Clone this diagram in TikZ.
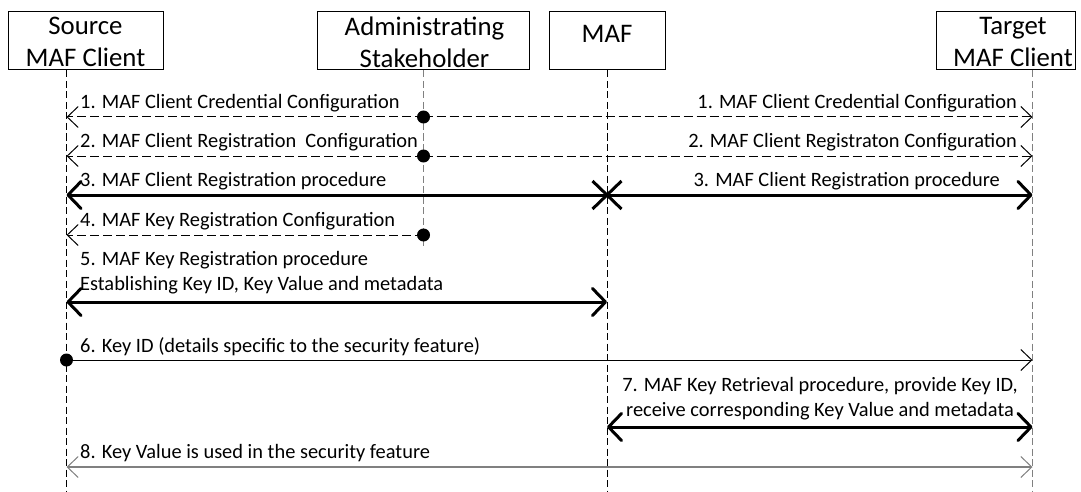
\documentclass[tikz,border=0pt]{standalone}
\usepackage{fontspec}
\setmainfont{Carlito}
\usetikzlibrary{arrows.meta,shapes.misc}
\definecolor{lgray}{RGB}{128,128,128}
\begin{document}
\begin{tikzpicture}[x=1pt,y=-1pt,
  actor/.style={draw, line width=1pt, inner sep=0pt, minimum height=58pt},
  hdr/.style={inner sep=0pt, align=center, font=\fontsize{26.8}{31.7}\selectfont},
  lbl/.style={inner sep=0pt, font=\fontsize{20.4}{25}\selectfont},
  life/.style={line width=1pt, dash pattern=on 7pt off 3.5pt},
  cfg/.style={line width=1pt, dash pattern=on 9pt off 4pt},
  proc/.style={line width=3pt},
  dot/.style={circle, fill, inner sep=0pt, minimum size=13pt},
  thinbarb/.tip={Straight Barb[length=11pt,width=21pt,line width=1pt]},
  thickbarb/.tip={Straight Barb[length=13pt,width=27pt,line width=3pt,round]},
]
\useasboundingbox (0,0) rectangle (1081,492);
\def\XS{66.5}\def\XA{423.5}\def\XM{607}\def\XT{1032.5}

% actor boxes
\node[actor, minimum width=155pt] (src) at (85.5,41) {};
\node[hdr] (srct) at (85.5,42) {Source\\MAF Client};
\node[actor, minimum width=212pt] (adm) at (423,41) {};
\node[hdr] (admt) at (424.5,42) {Administrating\\Stakeholder};
\node[actor, minimum width=116pt] (maf) at (607,41) {};
\node[hdr, anchor=base] (maft) at (607,43) {MAF};
\node[actor, minimum width=139pt] (tgt) at (1005.5,41) {};
\node[hdr] (tgtt) at (1013,42) {Target\\MAF Client};

% lifeline ends
\coordinate (sB) at (\XS,492);
\coordinate (aB) at (\XA,248);
\coordinate (mB) at (\XM,492);
\coordinate (tB) at (\XT,492);
\draw[life] (src.south -| sB) -- (sB);
\draw[life, lgray] (adm.south -| aB) -- (aB);
\draw[life] (maf.south -| mB) -- (mB);
\draw[life, lgray] (tgt.south -| tB) -- (tB);

% message coordinates
\coordinate (s1) at (\XS,117); \coordinate (a1) at (\XA,117); \coordinate (t1) at (\XT,117);
\coordinate (s2) at (\XS,156); \coordinate (a2) at (\XA,156); \coordinate (t2) at (\XT,156);
\coordinate (s3) at (\XS,195); \coordinate (m3) at (\XM,195); \coordinate (t3) at (\XT,195);
\coordinate (s4) at (\XS,235); \coordinate (a4) at (\XA,235);
\coordinate (s5) at (\XS,302); \coordinate (m5) at (\XM,302);
\coordinate (s6) at (\XS,360); \coordinate (t6) at (\XT,360);
\coordinate (m7) at (\XM,427); \coordinate (t7) at (\XT,427);
\coordinate (s8) at (\XS,467); \coordinate (t8) at (\XT,467);

% 1
\draw[cfg, -thinbarb] (a1) -- (s1);
\draw[cfg, -thinbarb] (a1) -- (t1);
\node[dot] (d1) at (a1) {};
\node[lbl, anchor=base west] (l1a) at (80,109) {1. MAF Client Credential Configuration};
\node[lbl, anchor=base east] (l1b) at (1017,109) {1. MAF Client Credential Configuration};
% 2
\draw[cfg, -thinbarb] (a2) -- (s2);
\draw[cfg, -thinbarb] (a2) -- (t2);
\node[dot] (d2) at (a2) {};
\node[lbl, anchor=base west] (l2a) at (80,147.5) {2. MAF Client Registration\ \ Configuration};
\node[lbl, anchor=base east] (l2b) at (1017,147.5) {2. MAF Client Registraton Configuration};
% 3
\draw[proc, thickbarb-thickbarb] (s3) -- (t3);
\node[cross out, draw, line width=3pt, minimum width=26pt, minimum height=25pt, inner sep=0pt] (x3) at (m3) {};
\node[lbl, anchor=base west] (l3a) at (80,186.5) {3. MAF Client Registration procedure};
\node[lbl, anchor=base east] (l3b) at (1000,186.5) {3. MAF Client Registration procedure};
% 4
\draw[cfg, -thinbarb] (a4) -- (s4);
\node[dot] (d4) at (a4) {};
\node[lbl, anchor=base west] (l4) at (80,226.5) {4. MAF Key Registration Configuration};
% 5
\draw[proc, thickbarb-thickbarb] (s5) -- (m5);
\node[lbl, anchor=base west, align=left] (l5) at (80,290.5) {5. MAF Key Registration procedure\\Establishing Key ID, Key Value and metadata};
% 6
\draw[line width=1pt, -thinbarb] (s6) -- (t6);
\node[dot] (d6) at (s6) {};
\node[lbl, anchor=base west] (l6) at (80,352) {6. Key ID (details specific to the security feature)};
% 7
\draw[proc, thickbarb-thickbarb] (m7) -- (t7);
\node[lbl, anchor=base, align=center] (l7) at (820,416) {7. MAF Key Retrieval procedure, provide Key ID,\\receive corresponding Key Value and metadata};
% 8
\draw[lgray, line width=1.3pt, thinbarb-thinbarb] (s8) -- (t8);
\node[lbl, anchor=base west] (l8) at (80,458) {8. Key Value is used in the security feature};
\end{tikzpicture}
\end{document}
